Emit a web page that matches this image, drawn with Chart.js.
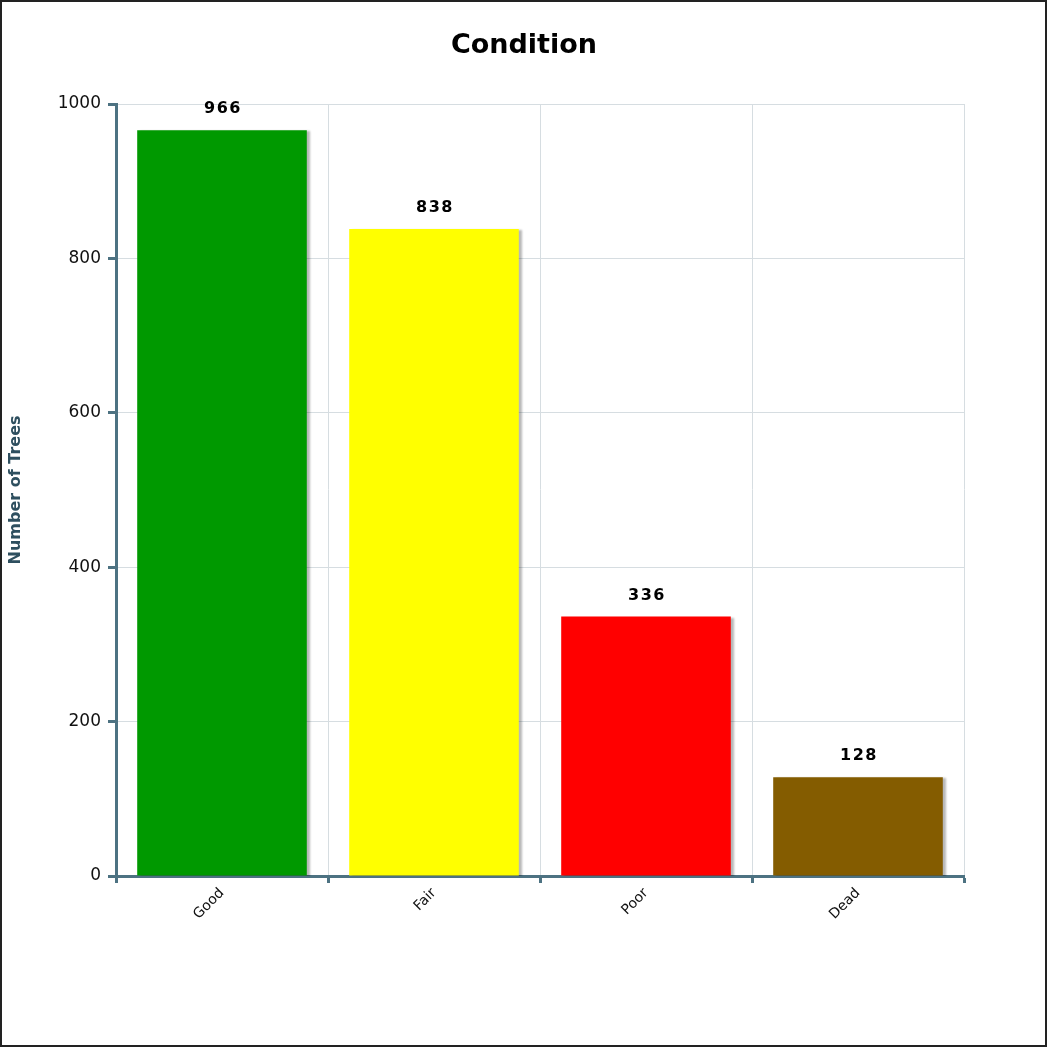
<!DOCTYPE html>
<html>
<head>
<meta charset="utf-8">
<script src="https://cdn.jsdelivr.net/npm/chart.js@4/dist/chart.umd.min.js"></script>
<style>
  html, body { margin: 0; padding: 0; background: #fff; }
  canvas { display: block; }
</style>
</head>
<body>
<canvas id="chart" width="1048" height="1048"></canvas>
<script>
// Tree condition counts
const chartTitle = 'Condition';
const categories = ['Good', 'Fair', 'Poor', 'Dead'];
const treeCounts = [966, 838, 336, 128];
const barColors = ['#009900', '#ffff00', '#ff0000', '#845c00'];
const yTicks = [0, 200, 400, 600, 800, 1000];

const AXIS = '#4d7282';
const GRID = '#d6dde1';

// Soft drop shadow behind the bars
const barShadow = {
  id: 'barShadow',
  beforeDatasetsDraw(chart) {
    const ctx = chart.ctx;
    ctx.save();
    ctx.shadowColor = 'rgba(0,0,0,0.28)';
    ctx.shadowOffsetX = 3;
    ctx.shadowOffsetY = 1;
    ctx.shadowBlur = 2;
  },
  afterDatasetsDraw(chart) {
    chart.ctx.restore();
  }
};

// Value printed above each bar
const valueLabels = {
  id: 'valueLabels',
  afterDatasetsDraw(chart) {
    const ctx = chart.ctx;
    const meta = chart.getDatasetMeta(0);
    const data = chart.data.datasets[0].data;
    ctx.save();
    ctx.font = 'bold 16px "DejaVu Sans"';
    ctx.letterSpacing = '1.5px';
    ctx.fillStyle = '#000';
    ctx.textAlign = 'center';
    ctx.textBaseline = 'middle';
    meta.data.forEach((bar, i) => {
      ctx.fillText(String(data[i]), bar.x + 1, bar.y - 21);
    });
    ctx.restore();
  }
};

// Title centred across the full figure width, plus the outer frame
const frameAndTitle = {
  id: 'frameAndTitle',
  afterDraw(chart) {
    const ctx = chart.ctx;
    ctx.save();
    ctx.font = 'bold 27px "DejaVu Sans"';
    ctx.fillStyle = '#000';
    ctx.textAlign = 'center';
    ctx.textBaseline = 'middle';
    ctx.fillText(chartTitle, chart.width / 2, 46);
    ctx.strokeStyle = '#222';
    ctx.lineWidth = 2;
    ctx.strokeRect(1, 1, chart.width - 3, chart.height - 3);
    ctx.restore();
  }
};

new Chart(document.getElementById('chart'), {
  type: 'bar',
  data: {
    labels: categories,
    datasets: [{
      data: treeCounts,
      backgroundColor: barColors,
      borderWidth: 0,
      categoryPercentage: 0.8,
      barPercentage: 1.0
    }]
  },
  options: {
    responsive: false,
    animation: false,
    layout: { padding: { left: 0, right: 84, top: 104, bottom: 0 } },
    plugins: {
      legend: { display: false },
      tooltip: { enabled: false },
      title: { display: false }
    },
    scales: {
      x: {
        offset: true,
        grid: {
          offset: true,
          color: GRID,
          lineWidth: 1,
          tickColor: AXIS,
          tickLength: 7,
          tickWidth: 3
        },
        border: { color: AXIS, width: 3 },
        ticks: {
          color: '#111',
          font: { family: '"DejaVu Sans"', size: 14 },
          minRotation: 45,
          maxRotation: 45,
          padding: 2
        },
        afterFit(scale) { scale.height = 172; }
      },
      y: {
        min: 0,
        max: 1000,
        afterBuildTicks(scale) { scale.ticks = yTicks.map(v => ({ value: v })); },
        grid: {
          color: GRID,
          lineWidth: 1,
          tickColor: AXIS,
          tickLength: 8,
          tickWidth: 3
        },
        border: { color: AXIS, width: 3 },
        ticks: {
          color: '#111',
          font: { family: '"DejaVu Sans"', size: 17 },
          padding: 7,
          callback: v => String(v)
        },
        title: {
          display: true,
          text: 'Number of Trees',
          color: '#2e4f5f',
          font: { family: '"DejaVu Sans"', size: 16, weight: 'bold' },
          padding: { top: 6, bottom: 0 }
        },
        afterFit(scale) { scale.width = 116; }
      }
    }
  },
  plugins: [barShadow, valueLabels, frameAndTitle]
});
</script>
</body>
</html>
